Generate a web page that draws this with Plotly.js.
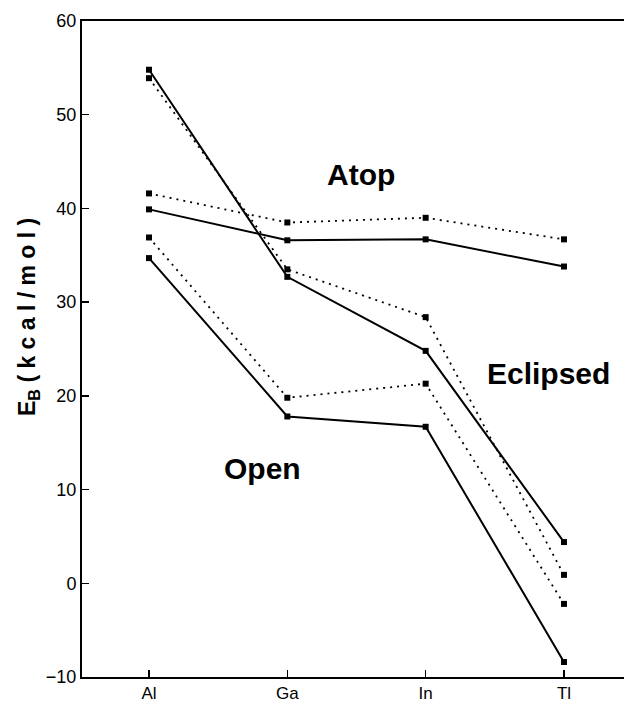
<!DOCTYPE html>
<html>
<head>
<meta charset="utf-8">
<script src="https://cdn.plot.ly/plotly-3.0.1.min.js"></script>
<style>html,body{margin:0;padding:0;background:#fff;}#chart{width:624px;height:707px;}</style>
</head>
<body>
<div id="chart"></div>
<script>
var metals = ["Al", "Ga", "In", "Tl"];
var atopSolid = [39.9, 36.6, 36.7, 33.8];
var atopDotted = [41.6, 38.5, 39.0, 36.7];
var eclipsedSolid = [54.8, 32.7, 24.8, 4.4];
var eclipsedDotted = [53.9, 33.5, 28.4, 0.9];
var openSolid = [34.7, 17.8, 16.7, -8.4];
var openDotted = [36.9, 19.8, 21.3, -2.2];
var yTicks = [-10, 0, 10, 20, 30, 40, 50, 60];

var idx = metals.map(function (m, i) { return i; });
function tr(y, dotted) {
  return {
    x: idx, y: y, type: 'scatter', mode: 'lines+markers',
    line: { color: '#000', width: dotted ? 1.8 : 2, dash: dotted ? '2px,5px' : 'solid' },
    marker: { symbol: 'square', size: 6, color: '#000' },
    showlegend: false, hoverinfo: 'none'
  };
}
var data = [
  tr(atopDotted, true), tr(atopSolid, false),
  tr(eclipsedDotted, true), tr(eclipsedSolid, false),
  tr(openDotted, true), tr(openSolid, false)
];
var lblFont = { family: 'Liberation Sans, Arial, sans-serif', size: 30, color: '#000', weight: 'bold' };
var layout = {
  width: 624, height: 707,
  margin: { l: 82, r: 0, t: 21, b: 30 },
  paper_bgcolor: '#fff', plot_bgcolor: '#fff',
  font: { family: 'Liberation Sans, Arial, sans-serif', color: '#000' },
  xaxis: {
    range: [-0.4845, 3.434], tickvals: idx, ticktext: metals,
    ticks: 'inside', ticklen: 7, tickwidth: 1.5, tickcolor: '#000',
    showline: true, linewidth: 2, linecolor: '#000', mirror: true,
    showgrid: false, zeroline: false, tickfont: { size: 17 }
  },
  yaxis: {
    range: [-10, 60], tickvals: yTicks,
    ticks: 'inside', ticklen: 7, tickwidth: 1.5, tickcolor: '#000',
    showline: true, linewidth: 2, linecolor: '#000', mirror: false,
    showgrid: false, zeroline: false, tickfont: { size: 18 }
  },
  annotations: [
    { x: -0.128, y: 0.549, xref: 'paper', yref: 'paper', textangle: -90,
      text: '<b>E<sub>B</sub> ( k c a l / m o l )</b>', showarrow: false,
      font: { family: 'Liberation Sans, Arial, sans-serif', size: 23, color: '#000' } },
    { x: 1.53, y: 43.6, xref: 'x', yref: 'y', text: 'Atop', showarrow: false, font: lblFont },
    { x: 2.885, y: 22.35, xref: 'x', yref: 'y', text: 'Eclipsed', showarrow: false, font: lblFont },
    { x: 0.82, y: 12.2, xref: 'x', yref: 'y', text: 'Open', showarrow: false, font: lblFont }
  ]
};
Plotly.newPlot('chart', data, layout, { staticPlot: true, displayModeBar: false });
</script>
</body>
</html>
